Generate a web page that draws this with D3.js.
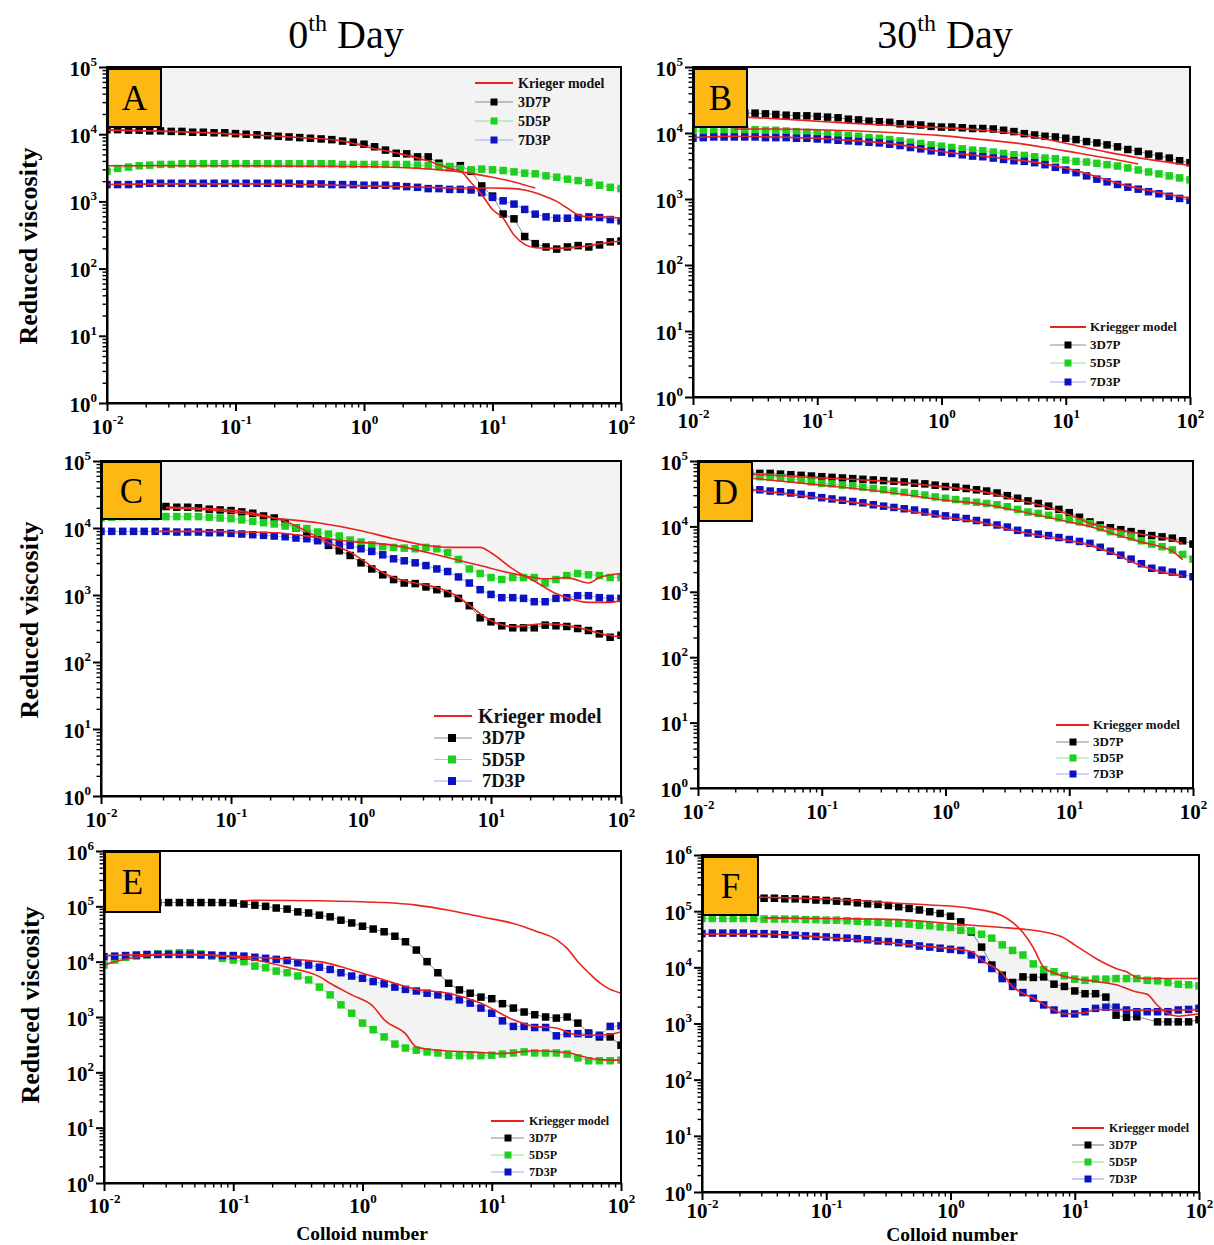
<!DOCTYPE html>
<html>
<head>
<meta charset="utf-8">
<script src="https://cdn.jsdelivr.net/npm/d3@7/dist/d3.min.js"></script>
<style>
  body { margin: 0; background: #fff; }
  svg { display: block; }
</style>
</head>
<body>
<svg id="chart" width="1214" height="1245"></svg>
<script>
// ---------- data ----------
const colloidNumber = [0.01,0.0121,0.0147,0.0178,0.0215,0.0261,0.0316,0.0383,0.0464,0.0562,0.0681,0.0825,
  0.1,0.121,0.147,0.178,0.215,0.261,0.316,0.383,0.464,0.562,0.681,0.825,
  1,1.21,1.47,1.78,2.15,2.61,3.16,3.83,4.64,5.62,6.81,8.25,
  10,12.1,14.7,17.8,21.5,26.1,31.6,38.3,46.4,56.2,68.1,82.5,100];

const sampleNames = ["3D7P", "5D5P", "7D3P"];
const xTickExponents = [-2, -1, 0, 1, 2];

// A: day 0
const viscA_3D7P = [11700,11700,11500,11500,11200,11200,11000,11000,10700,10700,10500,10500,10200,10000,9800,9500,9300,9100,8900,8700,8500,8300,7900,7600,7100,6500,5800,5200,5100,4600,4600,3700,3200,3400,2800,1700,1200,650,550,300,235,210,195,210,220,210,225,250,257];
const viscA_5D5P = [2820,3090,3240,3390,3470,3550,3550,3630,3630,3630,3630,3630,3630,3630,3630,3630,3630,3630,3630,3630,3630,3630,3550,3550,3550,3550,3550,3550,3550,3470,3390,3390,3310,3090,2950,3020,2950,2880,2750,2630,2570,2400,2290,2140,2040,1910,1740,1620,1550];
const viscA_7D3P = [1780,1780,1780,1820,1860,1860,1860,1860,1860,1860,1860,1860,1860,1860,1860,1860,1860,1860,1820,1820,1820,1780,1780,1780,1740,1740,1740,1700,1660,1620,1550,1550,1510,1510,1480,1350,1150,1020,912,759,646,589,562,562,575,589,575,537,513];
const kriegerA1 = [[0.01,11500],[0.0316,11000],[0.1,10000],[0.316,8910],[0.681,7940],[1,6610],[1.78,5250],[3.16,3980],[4.64,3090],[5.62,2820],[6.81,1910],[8.25,1260],[10,759],[12.1,562],[14.7,316],[17.8,229],[21.5,204],[31.6,200],[46.4,209],[68.1,234],[100,257]];
const kriegerA2 = [[0.01,3390],[0.1,3390],[1,3310],[2.15,3160],[3.83,2950],[5.62,2750],[10,2290],[14.7,1950],[21.5,1580]];
const kriegerA3 = [[0.01,1780],[0.0316,1820],[0.1,1820],[0.316,1780],[1,1700],[3.16,1620],[5.62,1580],[10,1580],[14.7,1550],[17.8,1480],[21.5,1350],[26.1,1170],[31.6,1000],[38.3,794],[46.4,631],[56.2,589],[68.1,589],[100,562]];

// B: day 30
const viscB_3D7P = [20400,20400,20400,20400,20000,20000,20000,19500,19100,18600,18200,18200,17800,17400,17000,16200,15800,15100,14800,14500,13800,13500,13200,12600,12300,12300,12000,11700,11700,11500,11000,10500,9770,9330,8910,8710,8320,7940,7410,7080,6610,6170,5620,5250,4790,4470,4170,3800,3550];
const viscB_5D5P = [10500,11000,11200,11200,11200,11200,11200,11000,11000,10700,10500,10200,10000,9770,9550,9120,8910,8510,8320,7940,7590,7240,6920,6610,6310,6030,5750,5500,5370,5130,4900,4680,4570,4370,4170,4070,3890,3720,3630,3470,3310,3160,2950,2750,2570,2400,2240,2090,1950];
const viscB_7D3P = [8320,8510,8710,8710,8710,8710,8710,8510,8510,8510,8320,8320,8130,7940,7760,7590,7410,7240,7080,6760,6460,6030,5750,5370,5130,4900,4680,4470,4370,4170,3980,3800,3720,3550,3310,3020,2750,2510,2240,2000,1820,1660,1510,1410,1290,1200,1100,1020,955];
const kriegerB1 = [[0.0261,17400],[0.0681,15800],[0.178,14100],[0.464,12900],[1,12000],[2.15,11000],[3.83,9770],[6.81,8130],[12.1,6460],[21.5,5130],[46.4,3980],[100,3240]];
const kriegerB2 = [[0.0215,11500],[0.0464,11500],[0.1,11200],[0.215,10700],[0.464,10000],[1,9120],[2.15,7940],[3.83,7080],[6.81,6030],[12.1,5010],[21.5,4170],[38.3,3390]];
const kriegerB3 = [[0.01,8510],[0.0215,8910],[0.0464,8710],[0.1,8320],[0.215,7590],[0.464,6610],[1,5250],[2.15,4470],[3.83,3980],[6.81,3390],[12.1,2690],[21.5,1950],[31.6,1580],[46.4,1350],[68.1,1170],[100,1020]];

// C: day 0
const viscC_3D7P = [21400,21400,21400,21400,21400,21400,20900,20400,20400,20000,19100,18600,18200,17400,16600,15100,14100,12000,10000,8130,6760,5500,4570,3890,3020,2450,2000,1700,1510,1480,1320,1200,1050,891,692,457,398,347,324,324,324,355,347,339,316,295,263,234,251];
const viscC_5D5P = [14100,14500,14800,14800,14800,14800,14800,14800,14800,14800,14500,14100,13800,13200,12600,12000,11500,10700,10000,9770,8710,8130,7590,6610,6170,5620,5250,5130,5010,4900,5130,4900,4270,3390,2450,2090,1820,1700,1820,1820,1820,1510,1700,1950,2090,2000,1950,1820,1820];
const viscC_7D3P = [8910,8910,8910,8910,8910,8910,8910,8710,8710,8710,8510,8510,8320,8130,7940,7760,7590,7410,7080,6920,6460,6030,5890,5500,4900,4470,3980,3470,3240,3020,2750,2450,2240,1860,1510,1200,1020,912,912,891,794,794,891,912,977,977,912,891,891];
const kriegerC1 = [[0.0316,20400],[0.0681,19500],[0.121,17800],[0.178,15500],[0.261,12600],[0.383,8910],[0.562,6030],[0.825,4370],[1.21,2690],[1.78,1820],[2.61,1510],[3.83,1290],[5.62,933],[6.81,708],[8.25,525],[10,417],[14.7,339],[26.1,372],[46.4,331],[68.1,269],[100,234]];
const kriegerC2 = [[0.0316,20000],[0.0681,18600],[0.121,16600],[0.215,14100],[0.464,12000],[1,9120],[1.78,6920],[3.16,5500],[4.64,5130],[8.25,5130],[10,4270],[14.7,2450],[17.8,1950],[21.5,1620],[31.6,1050],[38.3,912],[56.2,776],[82.5,776],[100,832]];
const kriegerC3 = [[0.0261,8910],[0.0681,8910],[0.121,8710],[0.215,8510],[0.464,7240],[0.825,6310],[1.78,5500],[4.64,3630],[8.25,2750],[14.7,2090],[21.5,1820],[26.1,1740],[38.3,1820],[56.2,1510],[68.1,1820],[100,2090]];

// D: day 30
const viscD_3D7P = [66100,66100,66100,66100,66100,66100,64600,64600,63100,61700,60300,58900,57500,56200,55000,53700,52500,51300,50100,49000,47900,45700,44700,42700,40700,39800,38000,36300,34700,32400,29500,26900,24500,22400,20400,18200,16200,13800,11700,10500,9550,8910,8320,7760,7240,6920,6610,6030,5370];
const viscD_5D5P = [58900,58900,58900,58900,58900,58900,57500,56200,55000,52500,51300,47900,45700,44700,42700,41700,39800,38000,36300,34700,33100,31600,30200,28200,26900,25700,24500,23400,22400,21400,20000,18200,16600,15800,14800,13500,12600,11700,11000,9550,8320,7590,6920,6030,5370,4900,4370,3720,3160];
const viscD_7D3P = [37200,37200,37200,37200,37200,37200,36300,34700,33900,32400,30900,29500,27500,26300,25100,24000,22900,21400,20400,19500,18600,17800,16600,15500,14500,13800,13200,12300,11500,10500,9770,8710,7940,7590,7240,6760,6310,5890,5500,4790,4170,3630,3160,2690,2290,2140,2000,1860,1700];
const kriegerD1 = [[0.0261,63100],[0.1,55000],[0.316,49000],[1,39800],[2.15,33100],[3.16,27500],[5.62,21400],[10,15100],[14.7,11200],[21.5,9330],[38.3,7590],[68.1,6170],[82.5,5500]];
const kriegerD2 = [[0.0261,55000],[0.1,42700],[0.316,33900],[1,25100],[2.15,21400],[3.16,18600],[5.62,14800],[10,11700],[14.7,10000],[21.5,7940],[38.3,5750],[68.1,4170],[82.5,3090]];
const kriegerD3 = [[0.0261,36300],[0.1,26900],[0.316,20000],[1,13800],[2.15,11000],[3.16,9120],[5.62,7240],[10,6030],[14.7,5130],[21.5,3980],[38.3,2510],[56.2,2000],[82.5,1740]];

// E: day 0
const viscE_3D7P = [117000,117000,117000,117000,117000,117000,117000,117000,117000,117000,117000,117000,115000,110000,105000,100000,93300,89100,79400,75900,69200,64600,56200,50100,43700,38900,34700,28800,22900,16200,10000,6310,4070,3090,2690,2290,2140,1740,1450,1230,1100,1000,955,1000,776,513,437,437,309];
const viscE_5D5P = [8710,10700,12000,12600,13200,13800,14100,14500,14500,13800,12600,11500,10700,10000,8320,7760,6760,6310,5500,4680,3470,2510,1660,1170,776,589,437,324,275,251,234,224,204,200,200,200,204,214,224,234,224,224,224,214,182,162,162,162,166];
const viscE_7D3P = [12300,12600,12900,13200,13500,13500,13500,13500,13500,13200,13200,12900,12900,12600,12000,11500,11000,10500,9550,8710,7940,7240,6310,5500,5010,4370,3980,3470,3160,2950,2690,2510,2340,2040,1780,1450,1170,851,676,676,646,646,457,501,501,490,468,676,692];
const kriegerE1 = [[0.121,126000],[0.147,129000],[0.464,126000],[1.47,117000],[2.61,105000],[4.64,85100],[8.25,64600],[14.7,49000],[21.5,36300],[31.6,25100],[38.3,17400],[46.4,10000],[56.2,6310],[68.1,4170],[82.5,3160],[100,2690]];
const kriegerE2 = [[0.01,12900],[0.0261,13500],[0.0681,13200],[0.121,12300],[0.464,10000],[0.825,7080],[1.47,4680],[2.61,3160],[4.64,2690],[8.25,1780],[14.7,891],[21.5,676],[31.6,631],[38.3,537],[46.4,468],[68.1,468],[100,537]];
const kriegerE3 = [[0.01,8710],[0.0147,11200],[0.0261,13200],[0.0464,13500],[0.0825,12600],[0.147,10700],[0.261,7940],[0.464,5370],[0.562,4070],[0.825,2510],[1.21,1550],[1.47,891],[2.15,501],[2.61,288],[3.83,251],[6.81,234],[12.1,219],[21.5,245],[38.3,229],[46.4,204],[68.1,170],[100,166]];

// F: day 30
const viscF_3D7P = [174000,174000,174000,174000,174000,174000,170000,170000,166000,166000,162000,158000,155000,151000,148000,141000,135000,132000,126000,120000,112000,105000,97700,91200,81300,64600,42700,22900,11000,7240,5370,6760,6610,6760,5010,4570,3800,3390,3390,2950,1410,1290,1320,null,1070,1070,1070,1070,1170];
const viscF_5D5P = [74100,74100,74100,74100,74100,74100,72400,72400,72400,72400,70800,70800,69200,69200,67600,66100,64600,63100,61700,60300,58900,56200,55000,52500,51300,45700,44700,38900,33100,25100,20000,16600,11500,9120,8320,7080,6170,5890,6170,6170,6310,6310,6310,5890,5750,5370,5010,4900,4680];
const viscF_7D3P = [39800,40700,40700,40700,40700,39800,39800,38900,38000,37200,36300,35500,34700,33900,33100,32400,30900,29500,28800,27500,26300,24000,22900,21900,20900,20000,16600,13800,9550,6310,4570,3550,2820,2140,1740,1510,1480,1620,1860,1950,1950,1740,1620,1620,1620,1620,1740,1780,1860];
const kriegerF1 = [[0.0261,178000],[0.0681,170000],[0.178,155000],[0.383,138000],[0.681,129000],[1.47,112000],[2.61,83200],[3.16,63100],[3.83,41700],[4.64,22400],[5.62,10000],[6.81,7940],[10,6310],[14.7,5620],[21.5,4900],[31.6,3630],[38.3,3310],[46.4,2090],[56.2,1510],[68.1,1350],[82.5,1410],[100,1480]];
const kriegerF2 = [[0.0316,75900],[0.1,74100],[0.215,72400],[0.383,70800],[0.681,64600],[1.47,56200],[2.61,51300],[3.83,47900],[5.62,42700],[8.25,33100],[10,25100],[12.1,19100],[14.7,14500],[21.5,9550],[26.1,8320],[31.6,6610],[38.3,6310],[100,6310]];
const kriegerF3 = [[0.01,38900],[0.0316,38900],[0.1,33900],[0.383,26300],[0.681,23400],[1.47,19100],[1.78,13500],[2.61,7760],[3.16,4570],[4.64,2820],[6.81,1740],[8.25,1480],[12.1,1550],[14.7,1780],[31.6,1740],[100,1740]];

// ---------- layout & style ----------
const FONT = '"Liberation Serif","Times New Roman",Times,serif';
const markerFill = ["#000000", "#1ed01e", "#0a12c2"];
const linkStroke = ["#8a8a8a", "#92e492", "#a6a6ff"];
const modelStroke = "#e8231d";
const shadeFill = "#f3f3f3";
const badgeFill = "#fdb813";

const panels = [
  { id: "A", box: [107, 67, 621, 403], yMaxExp: 5, series: [viscA_3D7P, viscA_5D5P, viscA_7D3P],
    models: [kriegerA1, kriegerA2, kriegerA3], shade: "above", badge: [108, 69, 53, 58], tickDy: 31,
    legend: { label: "Krieger model", l0: 475, l1: 513, mx: 494, tx: 518, stx: 518, rows: [83, 102, 121, 140], size: 14, ssize: 14 } },
  { id: "B", box: [693, 67, 1190, 397], yMaxExp: 5, series: [viscB_3D7P, viscB_5D5P, viscB_7D3P],
    models: [kriegerB1, kriegerB2, kriegerB3], shade: "above", badge: [694, 69, 53, 58], tickDy: 31,
    legend: { label: "Kriegger model", l0: 1050, l1: 1086, mx: 1068, tx: 1090, stx: 1090, rows: [327, 345, 363, 382], size: 13, ssize: 13 } },
  { id: "C", box: [101, 461, 621, 796], yMaxExp: 5, series: [viscC_3D7P, viscC_5D5P, viscC_7D3P],
    models: [kriegerC1, kriegerC2, kriegerC3], shade: "above", badge: [102, 462, 59, 57], tickDy: 31,
    legend: { label: "Krieger model", l0: 434, l1: 472, mx: 452, tx: 478, stx: 482, rows: [716, 738, 759.5, 781], size: 20, ssize: 18.5 } },
  { id: "D", box: [698, 461, 1193, 788], yMaxExp: 5, series: [viscD_3D7P, viscD_5D5P, viscD_7D3P],
    models: [kriegerD1, kriegerD2, kriegerD3], shade: "above", badge: [699, 462, 53, 59], tickDy: 31,
    legend: { label: "Kriegger model", l0: 1056, l1: 1089, mx: 1073, tx: 1093, stx: 1093, rows: [725, 742, 758, 774], size: 13, ssize: 13 } },
  { id: "E", box: [104, 851, 621, 1183], yMaxExp: 6, series: [viscE_3D7P, viscE_5D5P, viscE_7D3P],
    models: [kriegerE1, kriegerE2, kriegerE3], shade: "between", badge: [105, 852, 55, 60], tickDy: 30,
    legend: { label: "Kriegger model", l0: 491, l1: 524, mx: 508, tx: 529, stx: 529, rows: [1121, 1138, 1155, 1172], size: 12, ssize: 12 } },
  { id: "F", box: [702, 855, 1199, 1192], yMaxExp: 6, series: [viscF_3D7P, viscF_5D5P, viscF_7D3P],
    models: [kriegerF1, kriegerF2, kriegerF3], shade: "between", badge: [703, 857, 55, 58], tickDy: 26,
    legend: { label: "Kriegger model", l0: 1072, l1: 1104, mx: 1088, tx: 1109, stx: 1109, rows: [1128, 1145, 1162, 1179], size: 12, ssize: 12 } }
];

const svg = d3.select("#chart");
const defs = svg.append("defs");

function powerLabel(textSel, exp, size) {
  textSel.append("tspan").text("10");
  textSel.append("tspan").attr("font-size", size * 0.62).attr("dy", -size * 0.46).text(exp);
}

function drawPanel(p) {
  const [x0, y0, x1, y1] = p.box;
  const x = d3.scaleLog().domain([0.01, 100]).range([x0, x1]);
  const y = d3.scaleLog().domain([1, Math.pow(10, p.yMaxExp)]).range([y1, y0]);
  const g = svg.append("g").attr("class", "panel-" + p.id);

  defs.append("clipPath").attr("id", "clip" + p.id)
    .append("rect").attr("x", x0).attr("y", y0).attr("width", x1 - x0).attr("height", y1 - y0);
  const plot = g.append("g").attr("clip-path", `url(#clip${p.id})`);

  // light shading
  const rows = colloidNumber.map((c, i) => {
    const vals = p.series.map(s => s[i]).filter(v => v != null);
    if (p.shade === "above") return { c, hi: null, lo: d3.max(vals) };
    const a = p.series[1][i], b = p.series[2][i];
    return { c, hi: Math.max(a, b), lo: Math.min(a, b) };
  });
  const shadeArea = d3.area()
    .x(d => x(d.c))
    .y0(d => d.hi == null ? y0 : y(d.hi))
    .y1(d => y(d.lo))
    .curve(d3.curveMonotoneX);
  plot.append("path").datum(rows).attr("d", shadeArea).attr("fill", shadeFill);

  // measured series: thin link + square markers
  const ms = 7.5;
  p.series.forEach((s, k) => {
    const pts = colloidNumber.map((c, i) => [c, s[i]]).filter(d => d[1] != null);
    plot.append("path").datum(pts)
      .attr("d", d3.line().x(d => x(d[0])).y(d => y(d[1])))
      .attr("fill", "none").attr("stroke", linkStroke[k]).attr("stroke-width", 1);
    plot.append("g").selectAll("rect").data(pts).join("rect")
      .attr("x", d => x(d[0]) - ms / 2).attr("y", d => y(d[1]) - ms / 2)
      .attr("width", ms).attr("height", ms).attr("fill", markerFill[k]);
  });

  // Krieger model curves
  p.models.forEach(m => {
    plot.append("path").datum(m)
      .attr("d", d3.line().x(d => x(d[0])).y(d => y(d[1])).curve(d3.curveMonotoneX))
      .attr("fill", "none").attr("stroke", modelStroke).attr("stroke-width", 1.6);
  });

  // panel letter badge
  const [bx, by, bw, bh] = p.badge;
  g.append("rect").attr("x", bx).attr("y", by).attr("width", bw).attr("height", bh)
    .attr("fill", badgeFill).attr("stroke", "#000").attr("stroke-width", 2);
  g.append("text").attr("x", bx + bw / 2).attr("y", by + bh / 2 + 12)
    .attr("text-anchor", "middle").attr("font-family", FONT).attr("font-size", 35)
    .attr("fill", "#000").text(p.id);

  // frame
  g.append("rect").attr("x", x0).attr("y", y0).attr("width", x1 - x0).attr("height", y1 - y0)
    .attr("fill", "none").attr("stroke", "#000").attr("stroke-width", 2);

  const isMajor = d => { const e = Math.log10(d); return Math.abs(e - Math.round(e)) < 1e-9; };

  // bottom axis
  const gx = g.append("g").attr("transform", `translate(0,${y1})`)
    .call(d3.axisBottom(x).tickValues(x.ticks()).tickFormat(() => "").tickSizeOuter(0));
  gx.select(".domain").attr("stroke-width", 2);
  gx.selectAll(".tick").each(function (d) {
    const t = d3.select(this);
    const major = isMajor(d);
    t.select("line").attr("y2", major ? 8 : 4.5).attr("stroke-width", major ? 2 : 1.4);
    if (major && xTickExponents.includes(Math.round(Math.log10(d)))) {
      const tx = t.append("text").attr("y", p.tickDy).attr("text-anchor", "middle")
        .attr("fill", "#000").attr("font-family", FONT).attr("font-size", 21).attr("font-weight", "bold");
      powerLabel(tx, Math.round(Math.log10(d)), 21);
    }
  });

  // left axis
  const gy = g.append("g").attr("transform", `translate(${x0},0)`)
    .call(d3.axisLeft(y).tickValues(y.ticks()).tickFormat(() => "").tickSizeOuter(0));
  gy.select(".domain").attr("stroke-width", 2);
  gy.selectAll(".tick").each(function (d) {
    const t = d3.select(this);
    const major = isMajor(d);
    t.select("line").attr("x2", major ? -8 : -4.5).attr("stroke-width", major ? 2 : 1.4);
    if (major) {
      const tx = t.append("text").attr("x", -10).attr("y", 8).attr("text-anchor", "end")
        .attr("fill", "#000").attr("font-family", FONT).attr("font-size", 21).attr("font-weight", "bold");
      powerLabel(tx, Math.round(Math.log10(d)), 21);
    }
  });

  // legend
  const L = p.legend;
  const lg = g.append("g");
  lg.append("line").attr("x1", L.l0).attr("x2", L.l1).attr("y1", L.rows[0]).attr("y2", L.rows[0])
    .attr("stroke", modelStroke).attr("stroke-width", 2);
  lg.append("text").attr("x", L.tx).attr("y", L.rows[0] + L.size * 0.33)
    .attr("font-family", FONT).attr("font-weight", "bold").attr("font-size", L.size).attr("fill", "#111")
    .text(L.label);
  sampleNames.forEach((name, k) => {
    const ry = L.rows[k + 1];
    const lms = L.ssize >= 18 ? 8 : 7;
    lg.append("line").attr("x1", L.l0).attr("x2", L.l1).attr("y1", ry).attr("y2", ry)
      .attr("stroke", linkStroke[k]).attr("stroke-width", 1.2);
    lg.append("rect").attr("x", L.mx - lms / 2).attr("y", ry - lms / 2).attr("width", lms).attr("height", lms)
      .attr("fill", markerFill[k]);
    lg.append("text").attr("x", L.stx).attr("y", ry + L.ssize * 0.33)
      .attr("font-family", FONT).attr("font-weight", "bold").attr("font-size", L.ssize).attr("fill", "#111")
      .text(name);
  });
}

panels.forEach(drawPanel);

// column titles
function columnTitle(cx, num) {
  const t = svg.append("text").attr("x", cx).attr("y", 48).attr("text-anchor", "middle")
    .attr("font-family", FONT).attr("font-size", 40).attr("fill", "#000");
  t.append("tspan").text(num);
  t.append("tspan").attr("font-size", 24).attr("dy", -17).text("th");
  t.append("tspan").attr("dy", 17).text(" Day");
}
columnTitle(346, "0");
columnTitle(945, "30");

// axis titles
[[28, 246], [29, 620], [30, 1005]].forEach(([tx, ty]) => {
  svg.append("text").attr("transform", `translate(${tx + 9},${ty}) rotate(-90)`)
    .attr("text-anchor", "middle").attr("font-family", FONT).attr("font-weight", "bold")
    .attr("font-size", 26).attr("fill", "#000").text("Reduced viscosity");
});
[[362, 1239.5], [952, 1240.5]].forEach(([tx, ty]) => {
  svg.append("text").attr("x", tx).attr("y", ty).attr("text-anchor", "middle")
    .attr("font-family", FONT).attr("font-weight", "bold").attr("font-size", 19.5)
    .attr("fill", "#000").text("Colloid number");
});
</script>
</body>
</html>
